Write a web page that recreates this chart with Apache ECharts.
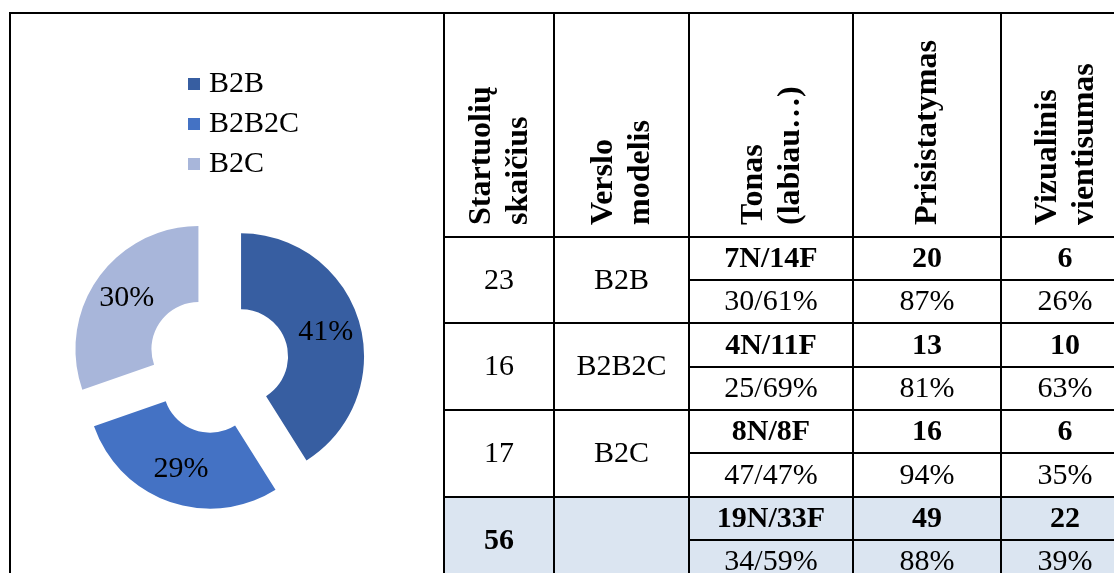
<!DOCTYPE html>
<html>
<head>
<meta charset="utf-8">
<script src="https://cdn.jsdelivr.net/npm/echarts@6/dist/echarts.min.js"></script>
<style>html,body{margin:0;padding:0;background:#fff;}#c{width:1114px;height:573px;}</style>
</head>
<body>
<div id="c"></div>
<script>
// ---- data ----
const models = ['B2B', 'B2B2C', 'B2C'];
const startupCounts = [23, 16, 17];
const toneCounts = ['7N/14F', '4N/11F', '8N/8F'];
const toneShares = ['30/61%', '25/69%', '47/47%'];
const presentationCounts = [20, 13, 16];
const presentationShares = ['87%', '81%', '94%'];
const visualCounts = [6, 10, 6];
const visualShares = ['26%', '63%', '35%'];
const totalCount = 56;
const totalTone = '19N/33F';
const totalToneShare = '34/59%';
const totalPresentation = 49;
const totalPresentationShare = '88%';
const totalVisual = 22;
const totalVisualShare = '39%';
const headers = ['Startuolių\nskaičius', 'Verslo\nmodelis', 'Tonas\n(labiau…)', 'Prisistatymas', 'Vizualinis\nvientisumas'];

// ---- layout (table geometry in table units) ----
const colEdges = [0, 110, 245, 409, 557, 685];
const rowEdges = [0, 224, 267, 310, 354, 397, 440, 484, 527, 570];
const pieColors = ['#375ea1', '#4472c4', '#a8b6da'];
const totalFill = '#dbe5f1';
const FONT = '"Liberation Serif", "Times New Roman", serif';

// build cells
const cells = [];
headers.forEach((h, c) => cells.push({col: c, r0: 0, r1: 1, text: h, kind: 'header'}));
models.forEach((m, i) => {
  const a = 1 + 2 * i, b = 2 + 2 * i, e = 3 + 2 * i;
  cells.push({col: 0, r0: a, r1: e, text: String(startupCounts[i])});
  cells.push({col: 1, r0: a, r1: e, text: m});
  cells.push({col: 2, r0: a, r1: b, text: toneCounts[i], bold: true});
  cells.push({col: 2, r0: b, r1: e, text: toneShares[i]});
  cells.push({col: 3, r0: a, r1: b, text: String(presentationCounts[i]), bold: true});
  cells.push({col: 3, r0: b, r1: e, text: presentationShares[i]});
  cells.push({col: 4, r0: a, r1: b, text: String(visualCounts[i]), bold: true});
  cells.push({col: 4, r0: b, r1: e, text: visualShares[i]});
});
cells.push({col: 0, r0: 7, r1: 9, text: String(totalCount), bold: true, fill: totalFill});
cells.push({col: 1, r0: 7, r1: 9, text: '', fill: totalFill});
cells.push({col: 2, r0: 7, r1: 8, text: totalTone, bold: true, fill: totalFill});
cells.push({col: 2, r0: 8, r1: 9, text: totalToneShare, fill: totalFill});
cells.push({col: 3, r0: 7, r1: 8, text: String(totalPresentation), bold: true, fill: totalFill});
cells.push({col: 3, r0: 8, r1: 9, text: totalPresentationShare, fill: totalFill});
cells.push({col: 4, r0: 7, r1: 8, text: String(totalVisual), bold: true, fill: totalFill});
cells.push({col: 4, r0: 8, r1: 9, text: totalVisualShare, fill: totalFill});

const chart = echarts.init(document.getElementById('c'), null, {renderer: 'canvas'});

function renderCell(params, api) {
  const cell = cells[params.dataIndex];
  const p0 = api.coord([colEdges[cell.col], rowEdges[cell.r0]]);
  const p1 = api.coord([colEdges[cell.col + 1], rowEdges[cell.r1]]);
  const w = p1[0] - p0[0], h = p1[1] - p0[1];
  const children = [{
    type: 'rect',
    shape: {x: p0[0], y: p0[1], width: w, height: h},
    style: {fill: cell.fill || 'rgba(0,0,0,0)', stroke: '#000', lineWidth: 2}
  }];
  if (cell.kind === 'header') {
    children.push({
      type: 'text',
      x: p0[0] + w / 2 + 1,
      y: p1[1] - 12,
      rotation: Math.PI / 2,
      style: {
        text: cell.text, fill: '#000',
        fontFamily: FONT, fontWeight: 'bold', fontSize: 32, lineHeight: 37,
        align: 'left', verticalAlign: 'middle',
        textAlign: 'left', textVerticalAlign: 'middle'
      }
    });
  } else if (cell.text) {
    children.push({
      type: 'text',
      x: p0[0] + w / 2,
      y: p0[1] + h / 2 + 1,
      style: {
        text: cell.text, fill: '#000',
        fontFamily: FONT, fontWeight: cell.bold ? 'bold' : 'normal', fontSize: 30,
        align: 'center', verticalAlign: 'middle',
        textAlign: 'center', textVerticalAlign: 'middle'
      }
    });
  }
  return {type: 'group', children};
}

const option = {
  animation: false,
  backgroundColor: '#fff',
  graphic: [{
    type: 'rect', z: -10,
    shape: {x: 10, y: 13, width: 1200, height: 700},
    style: {fill: 'none', stroke: '#000', lineWidth: 2}
  }],
  legend: {
    orient: 'vertical', left: 188, top: 69, padding: 0,
    icon: 'rect', itemWidth: 12, itemHeight: 12, itemGap: 10,
    selectedMode: false,
    textStyle: {fontFamily: FONT, fontSize: 30, color: '#000', padding: [0, 0, 0, 4]},
    data: models
  },
  grid: {left: 444, top: 13, width: 685, height: 570, outerBoundsMode: 'none', containLabel: false},
  xAxis: {type: 'value', min: 0, max: colEdges[colEdges.length - 1], show: false},
  yAxis: {type: 'value', min: 0, max: rowEdges[rowEdges.length - 1], inverse: true, show: false},
  series: [
    {
      type: 'pie',
      center: [218, 363],
      radius: [47, 123],
      startAngle: 90,
      clockwise: true,
      selectedMode: 'multiple',
      selectedOffset: 24,
      silent: true,
      label: {
        show: true, position: 'inside', color: '#000',
        fontFamily: FONT, fontSize: 30,
        formatter: p => Math.round(p.percent) + '%'
      },
      labelLine: {show: false},
      emphasis: {disabled: true},
      select: {itemStyle: {borderWidth: 0}, label: {color: '#000'}},
      data: models.map((m, i) => ({
        name: m, value: startupCounts[i], selected: true,
        itemStyle: {color: pieColors[i]},
        select: {itemStyle: {color: pieColors[i], borderWidth: 0}}
      }))
    },
    {
      type: 'custom',
      coordinateSystem: 'cartesian2d',
      silent: true,
      clip: false,
      renderItem: renderCell,
      data: cells.map(c => [colEdges[c.col], rowEdges[c.r0]])
    }
  ]
};
chart.setOption(option);
</script>
</body>
</html>
